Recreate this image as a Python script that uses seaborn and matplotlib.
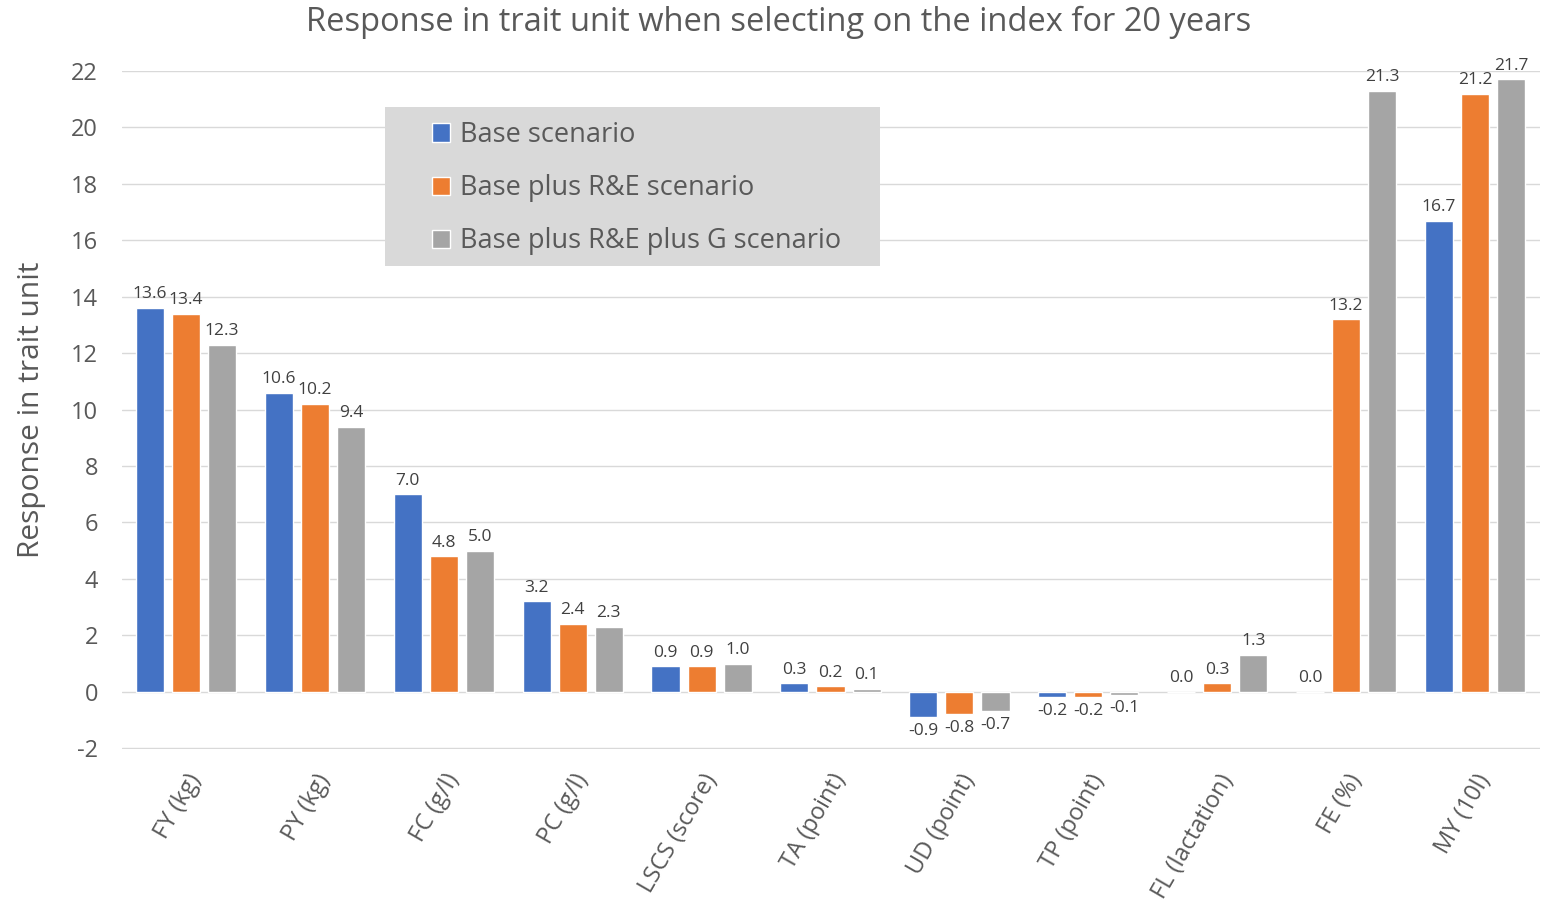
import pandas as pd
import seaborn as sns
import matplotlib.pyplot as plt
from matplotlib.patches import Rectangle

traits = ['FY (kg)', 'PY (kg)', 'FC (g/l)', 'PC (g/l)', 'LSCS (score)', 'TA (point)',
          'UD (point)', 'TP (point)', 'FL (lactation)', 'FE (%)', 'MY (10l)']
scenarios = ['Base scenario', 'Base plus R&E scenario', 'Base plus R&E plus G scenario']
base = [13.6, 10.6, 7.0, 3.2, 0.9, 0.3, -0.9, -0.2, 0.0, 0.0, 16.7]
base_re = [13.4, 10.2, 4.8, 2.4, 0.9, 0.2, -0.8, -0.2, 0.3, 13.2, 21.2]
base_re_g = [12.3, 9.4, 5.0, 2.3, 1.0, 0.1, -0.7, -0.1, 1.3, 21.3, 21.7]
colors = ['#4472c4', '#ed7d31', '#a5a5a5']

df = pd.DataFrame({
    'Trait': traits * 3,
    'Scenario': [s for s in scenarios for _ in traits],
    'Response': base + base_re + base_re_g,
})

sns.set_style('white')
plt.rcParams['font.family'] = ['Open Sans', 'DejaVu Sans']
plt.rcParams['axes.unicode_minus'] = False

W, H = 1547, 908
fig = plt.figure(figsize=(W / 100, H / 100), dpi=100)
ax = fig.add_axes([121.5 / W, 1 - 749 / H, 1418 / W, 678 / H])

sns.barplot(data=df, x='Trait', y='Response', hue='Scenario', palette=colors,
            width=0.84, gap=0.22, saturation=1, ax=ax, errorbar=None)

# Beschriftung der Balken
for cont in ax.containers:
    ax.bar_label(cont, fmt='%.1f', padding=4, fontsize=12.5, color='#404040')

ax.set_ylim(-2.03, 22)
ax.set_yticks(range(-2, 23, 2))
ax.set_xlim(-0.5, len(traits) - 0.5)
ax.yaxis.grid(True, color='#d9d9d9', linewidth=1)
ax.set_axisbelow(True)
for s in ax.spines.values():
    s.set_visible(False)

ax.tick_params(axis='y', labelsize=17, colors='#595959', length=0, pad=17)
ax.tick_params(axis='x', labelsize=17, colors='#595959', length=0, pad=15)
plt.setp(ax.get_xticklabels(), rotation=60, ha='right', rotation_mode='anchor')
ax.set_xlabel('')
ax.set_ylabel('Response in trait unit', fontsize=21.5, color='#595959', labelpad=18)
fig.text(0.5 * (305 + 1253) / W, 1 - 22 / H,
         'Response in trait unit when selecting on the index for 20 years',
         fontsize=23.5, color='#595959', ha='center', va='center')

# Legende mit grauem Kasten
box = Rectangle((385 / W, 1 - 266 / H), 495 / W, 159 / H, transform=fig.transFigure,
                facecolor='#d9d9d9', edgecolor='none', zorder=4, clip_on=False)
ax.add_patch(box)
leg = ax.legend(loc='upper left', bbox_to_anchor=(432 / W, 1 - 121 / H),
                bbox_transform=fig.transFigure, fontsize=19.5, frameon=False,
                handlelength=0.65, handleheight=0.65, handletextpad=0.4,
                labelspacing=0.93, borderpad=0, borderaxespad=0)
leg.set_zorder(5)
for t in leg.get_texts():
    t.set_color('#595959')

fig.savefig('out.png', dpi=100)
